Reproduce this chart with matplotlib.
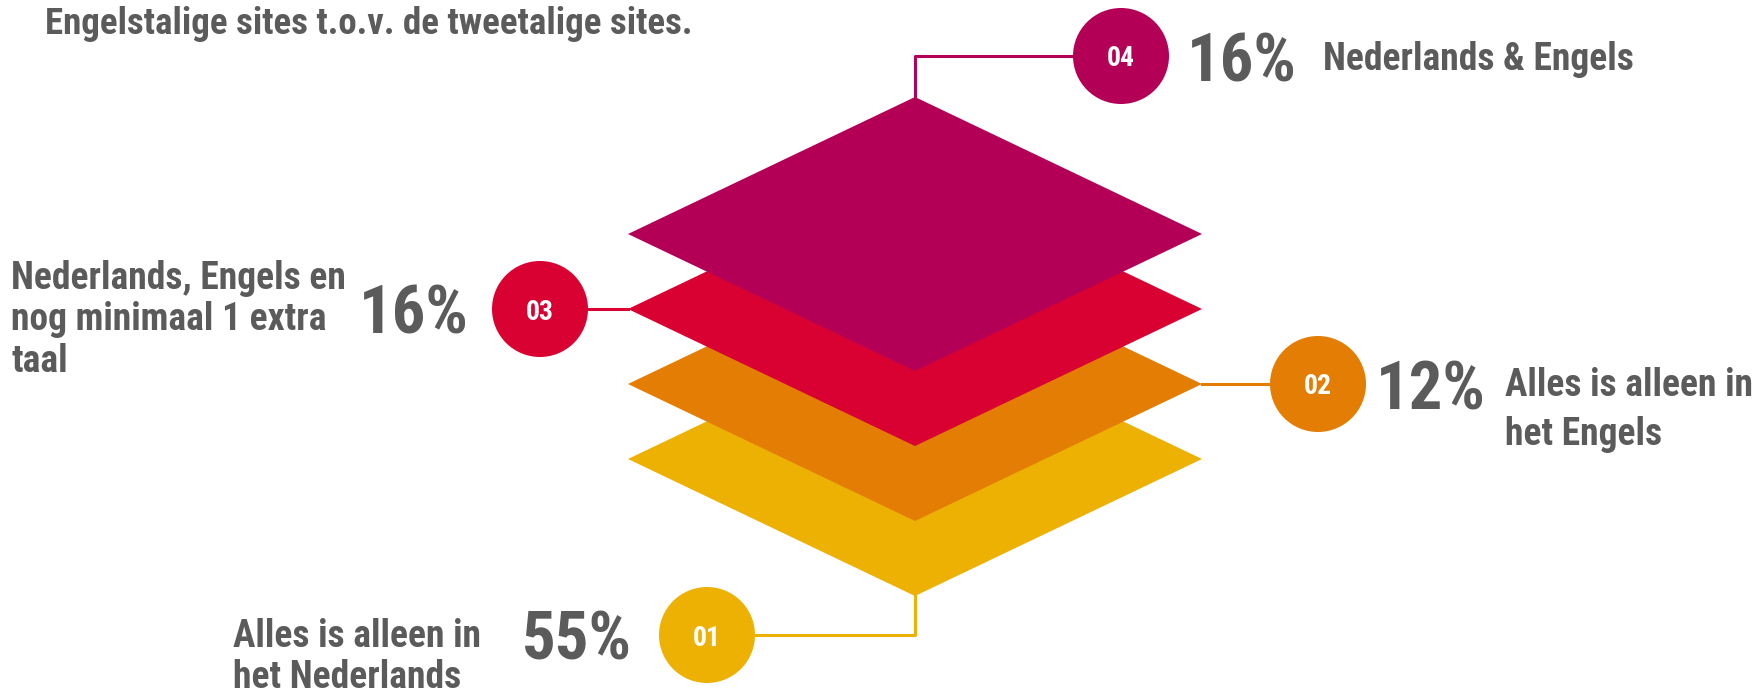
import matplotlib
matplotlib.use('Agg')
import matplotlib.pyplot as plt
from matplotlib.patches import Circle, Polygon

codes = ['01', '02', '03', '04']
shares = [55, 12, 16, 16]
labels = ['Alles is alleen in\nhet Nederlands',
          'Alles is alleen in\nhet Engels',
          'Nederlands, Engels en\nnog minimaal 1 extra\ntaal',
          'Nederlands & Engels']
colors = ['#EDB104', '#E37D04', '#D90032', '#B30056']
title = 'Engelstalige sites t.o.v. de tweetalige sites.'

W, H = 1754, 696
grey = '#5B5B5B'
fam = ['Roboto Condensed', 'Roboto', 'DejaVu Sans']

fig = plt.figure(figsize=(W / 100, H / 100), dpi=100)
ax = fig.add_axes([0, 0, 1, 1])
ax.set_xlim(0, W)
ax.set_ylim(H, 0)
ax.axis('off')

# stacked diamonds, layer 0 at the bottom
cx, hw, hh = 915, 287, 137
base_y, step = 459, 75
for i, c in enumerate(colors):
    cy = base_y - i * step
    ax.add_patch(Polygon([(cx - hw, cy), (cx, cy - hh), (cx + hw, cy), (cx, cy + hh)],
                         closed=True, fc=c, ec='none', zorder=2 + i))

r = 48
lw = 2.2
# 01: from the bottom corner, down and to the left
cy0 = base_y
ax.plot([cx, cx, 707 + r], [cy0 + hh, 635, 635], color=colors[0], lw=lw, zorder=1)
# 02: right corner of layer 1
cy1 = base_y - step
ax.plot([cx + hw, 1318 - r], [cy1, cy1], color=colors[1], lw=lw, zorder=1)
# 03: left corner of layer 2
cy2 = base_y - 2 * step
ax.plot([540 + r, cx - hw], [cy2, cy2], color=colors[2], lw=lw, zorder=1)
# 04: top corner of layer 3, up and to the right
cy3 = base_y - 3 * step
ax.plot([cx, cx, 1121 - r], [cy3 - hh, 56, 56], color=colors[3], lw=lw, zorder=1)

badges = [(707, 635), (1318, cy1), (540, cy2), (1121, 56)]
for (bx, by), code, c in zip(badges, codes, colors):
    ax.add_patch(Circle((bx, by), r, fc=c, ec='none', zorder=6))
    ax.text(bx, by, code, color='white', fontsize=20, fontweight='bold', family=fam,
            ha='center', va='center_baseline', zorder=7)

pct_kw = dict(color=grey, fontsize=48, fontweight='bold', family=fam,
              ha='center', va='center_baseline')
lab_kw = dict(color=grey, fontsize=27, fontweight='bold', family=fam, ha='left')

pos_pct = [(577, 635), (1431, cy1), (414, cy2), (1242, 56)]
for (px, py), s in zip(pos_pct, shares):
    ax.text(px, py, f'{s}%', **pct_kw)

ax.text(233, 657, labels[0], va='center', linespacing=1.15, **lab_kw)
ax.text(1505, 410, labels[1], va='center', linespacing=1.4, **lab_kw)
ax.text(11, 320, labels[2], va='center', linespacing=1.15, **lab_kw)
ax.text(1323, 56, labels[3], va='center_baseline', **lab_kw)

ax.text(45, 20, title, color=grey, fontsize=26.6, fontweight='bold', family=fam,
        ha='left', va='center_baseline')

fig.savefig('out.png', dpi=100)
